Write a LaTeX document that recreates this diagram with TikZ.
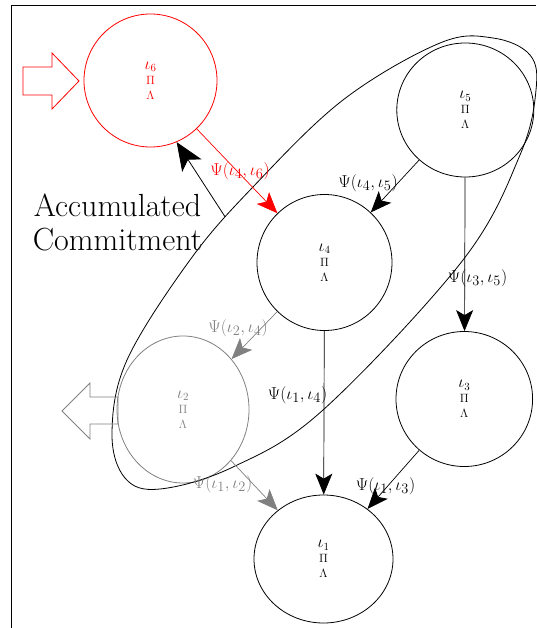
\documentclass[tikz,border=0pt]{standalone}
\usetikzlibrary{arrows.meta,shapes.geometric}
\newcommand{\stt}[1]{{\fontsize{16}{15}\selectfont$\iota_{#1}$}\\$\Pi$\\$\Lambda$}
\begin{document}
\begin{tikzpicture}[x=1pt,y=-1pt,
  state/.style={ellipse,draw,line width=0.8pt,inner sep=0pt,align=center,
    font=\fontsize{12}{15}\selectfont},
  arr/.style={-{Stealth[length=21pt,width=17pt,inset=5pt]},line width=0.7pt},
  bigarr/.style={-{Stealth[length=28pt,width=23pt,inset=7pt]},line width=0.8pt},
  lab/.style={inner sep=0pt,font=\fontsize{19}{22}\selectfont},
  blockarr/.style={line width=0.8pt,line join=miter}]
\useasboundingbox (0,0) rectangle (536,628);
% frame
\draw[line width=1.1pt] (11.3,628) -- (11.3,5.3) -- (536,5.3);
% nodes
\node[state,draw=red,text=red,minimum width=133pt,minimum height=133pt] (i6) at (150.5,80.5) {\stt{6}};
\node[state,minimum width=137pt,minimum height=134pt] (i5) at (465.3,110) {\stt{5}};
\node[state,minimum width=135pt,minimum height=136pt] (i4) at (324.5,262.5) {\stt{4}};
\node[state,minimum width=136.6pt,minimum height=135pt] (i3) at (464.3,399) {\stt{3}};
\node[state,minimum width=139pt,minimum height=128pt] (i1) at (323.5,559) {\stt{1}};
\node[state,draw=gray,text=gray,minimum width=132pt,minimum height=147pt] (i2) at (183,409.5) {\stt{2}};
% enclosing curve
\draw[line width=0.8pt] plot[smooth cycle,tension=0.6] coordinates {
 (112,433) (127,360) (190,260) (252,188) (343,100) (440,43) (493,38)
 (530,55) (536,90) (520,155) (463,260) (323,410) (233,467) (160,489) (125,478)};
\coordinate (acc) at (225,216.7);
% connectors
\draw[arr] (i5) -- (i4);
\draw[arr] (i5) -- (i3);
\draw[arr] (i4) -- (i1);
\draw[arr] (i3) -- (i1);
\draw[arr,gray] (i4) -- (i2);
\draw[arr,gray] (i2) -- (i1);
\draw[arr,red] (i6) -- (i4);
\draw[bigarr] (acc) -- (i6.-67.6);
% labels
\node[lab] (l45) at (368,183) {$\Psi(\iota_4,\iota_5)$};
\node[lab] (l35) at (477.5,278) {$\Psi(\iota_3,\iota_5)$};
\node[lab] (l14) at (297.5,395) {$\Psi(\iota_1,\iota_4)$};
\node[lab] (l13) at (385.5,486) {$\Psi(\iota_1,\iota_3)$};
\node[lab,text=gray] (l24) at (238,328) {$\Psi(\iota_2,\iota_4)$};
\node[lab,text=gray] (l12) at (222.5,484) {$\Psi(\iota_1,\iota_2)$};
\node[lab,text=red] (l46) at (240,171) {$\Psi(\iota_4,\iota_6)$};
\node[inner sep=0pt,align=center,font=\fontsize{32}{34}\selectfont] (acctext) at (117.5,222) {Accumulated\\Commitment};
% block arrows
\draw[blockarr,red] (23,67) -- (52,67) -- (52,53) -- (79,81) -- (52,109) -- (52,95) -- (23,95) -- cycle;
\draw[blockarr,gray] (62,411) -- (90,383) -- (90,397) -- (118,397) -- (118,424) -- (90,424) -- (90,439) -- cycle;
\end{tikzpicture}
\end{document}
